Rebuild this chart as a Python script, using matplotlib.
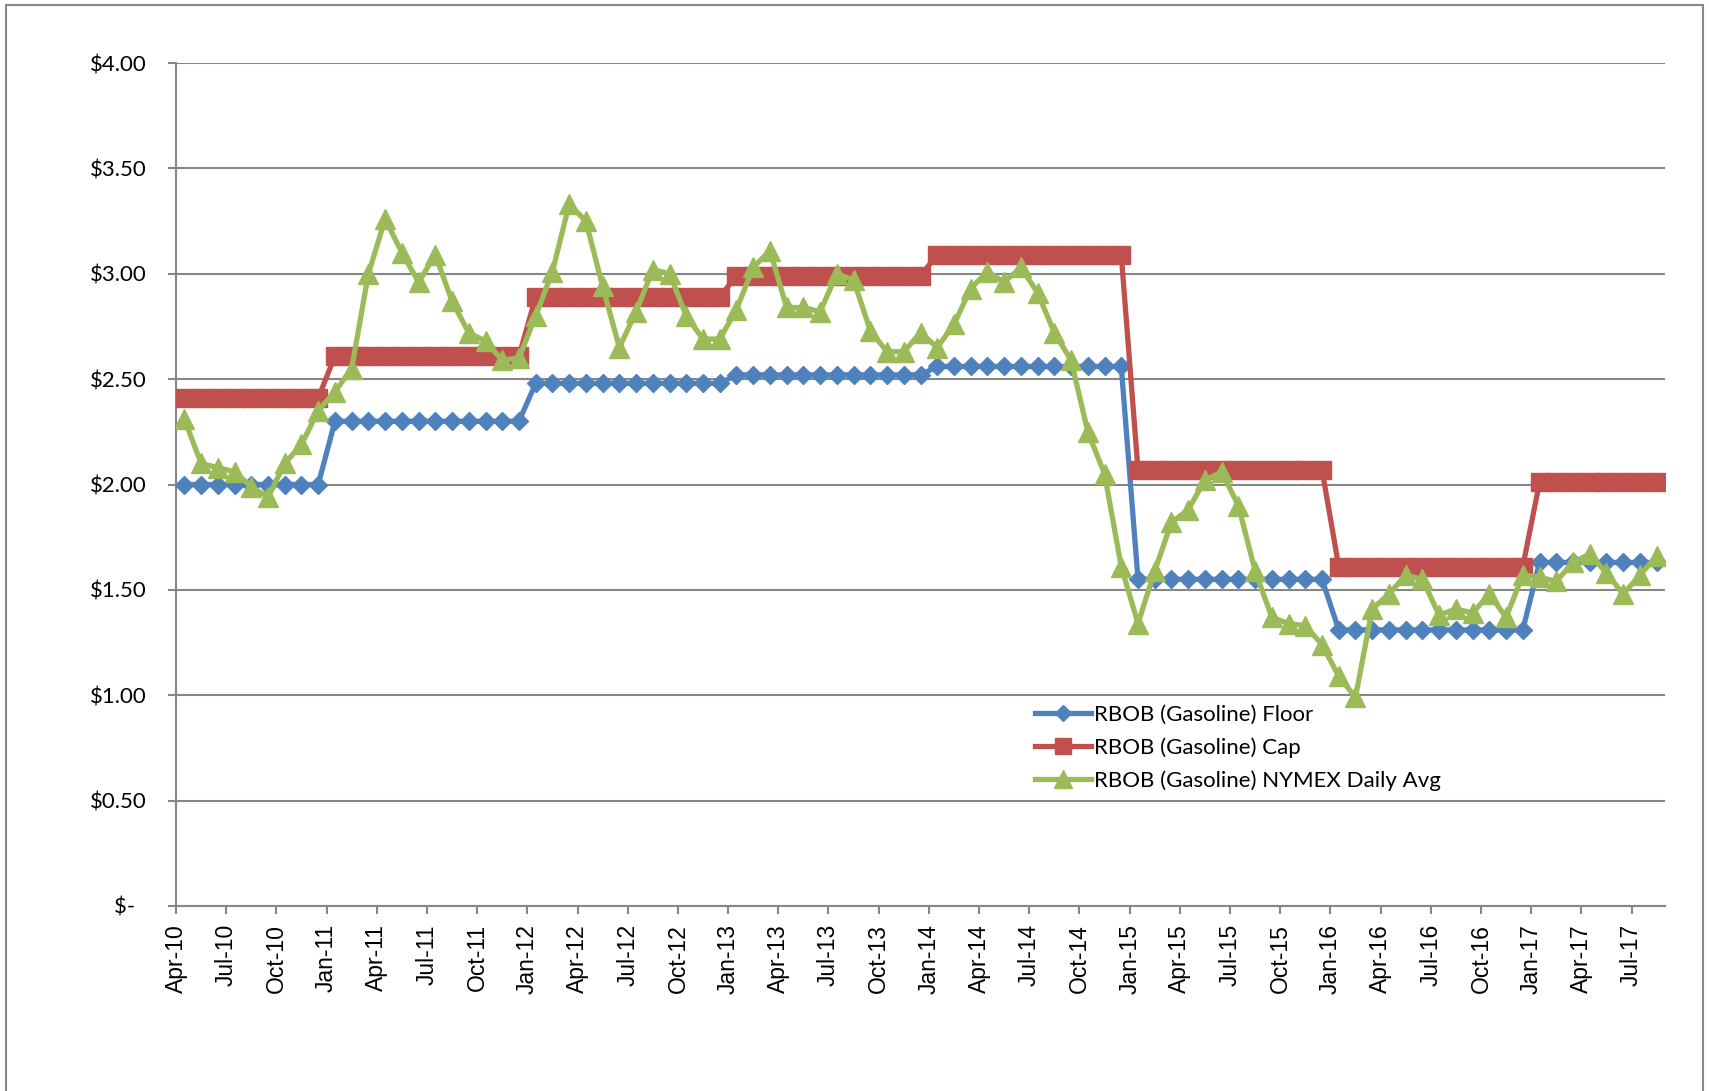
import numpy as np
import matplotlib
matplotlib.use("Agg")
import matplotlib.pyplot as plt
from matplotlib.patches import Rectangle

# ---- data (monthly, Apr-10 .. Aug-17) ----
floor = ([2.00] * 9 + [2.30] * 12 + [2.48] * 12 + [2.52] * 12 +
         [2.56] * 12 + [1.55] * 12 + [1.31] * 12 + [1.63] * 8)
cap = ([2.41] * 9 + [2.61] * 12 + [2.89] * 12 + [2.99] * 12 +
       [3.09] * 12 + [2.07] * 12 + [1.61] * 12 + [2.01] * 8)
nymex = [2.31, 2.10, 2.08, 2.06, 1.99, 1.94, 2.10, 2.19, 2.35,
         2.44, 2.55, 3.00, 3.26, 3.10, 2.96, 3.09, 2.87, 2.72, 2.68, 2.59, 2.60,
         2.80, 3.01, 3.33, 3.25, 2.94, 2.65, 2.82, 3.02, 3.00, 2.80, 2.69, 2.69,
         2.83, 3.03, 3.11, 2.84, 2.84, 2.82, 3.00, 2.97, 2.73, 2.63, 2.63, 2.72,
         2.65, 2.76, 2.93, 3.01, 2.96, 3.03, 2.91, 2.72, 2.59, 2.25, 2.05, 1.61,
         1.34, 1.59, 1.82, 1.88, 2.02, 2.06, 1.90, 1.59, 1.37, 1.34, 1.33, 1.24,
         1.09, 0.99, 1.41, 1.48, 1.57, 1.55, 1.38, 1.41, 1.39, 1.48, 1.37, 1.57,
         1.56, 1.54, 1.63, 1.67, 1.58, 1.48, 1.57, 1.66]
tick_labels = ["Apr-10", "Jul-10", "Oct-10", "Jan-11", "Apr-11", "Jul-11", "Oct-11",
               "Jan-12", "Apr-12", "Jul-12", "Oct-12", "Jan-13", "Apr-13", "Jul-13",
               "Oct-13", "Jan-14", "Apr-14", "Jul-14", "Oct-14", "Jan-15", "Apr-15",
               "Jul-15", "Oct-15", "Jan-16", "Apr-16", "Jul-16", "Oct-16", "Jan-17",
               "Apr-17", "Jul-17"]
y_ticks = [0, 0.5, 1.0, 1.5, 2.0, 2.5, 3.0, 3.5, 4.0]
y_labels = ["$-  ", "$0.50", "$1.00", "$1.50", "$2.00", "$2.50", "$3.00", "$3.50", "$4.00"]
series_names = ["RBOB (Gasoline) Floor", "RBOB (Gasoline) Cap",
                "RBOB (Gasoline) NYMEX Daily Avg"]

BLUE = "#4F81BD"
RED = "#C0504D"
GREEN = "#9BBB59"
GRID = "#868686"

W, H = 1709, 1091
fig = plt.figure(figsize=(W / 100, H / 100), dpi=100)
fig.patch.set_facecolor("white")

ax = fig.add_axes([176 / W, 1 - 906 / H, (1665 - 176) / W, (906 - 63) / H])

x = np.arange(len(nymex)) + 0.5

ax.plot(x, floor, color=BLUE, lw=3.8, marker="D", ms=9, mec=BLUE, mew=1,
        label=series_names[0], zorder=3)
ax.plot(x, cap, color=RED, lw=3.8, marker="s", ms=13.5, mec=RED, mew=1,
        label=series_names[1], zorder=4)
ax.plot(x, nymex, color=GREEN, lw=3.8, marker="^", ms=14.5, mec=GREEN, mew=1,
        label=series_names[2], zorder=5)

ax.set_xlim(0, len(nymex))
ax.set_ylim(0, 4.0)

ax.set_yticks(y_ticks)
ax.set_yticklabels(y_labels, fontfamily="Lato", fontsize=16)
ax.set_xticks(np.arange(0, len(nymex), 3))
ax.set_xticklabels(tick_labels, rotation=90, fontfamily="Liberation Sans", fontsize=16.5)

ax.grid(axis="y", color=GRID, lw=1.5, zorder=0)
ax.set_axisbelow(True)
for s in ["top", "right"]:
    ax.spines[s].set_visible(False)
for s in ["left", "bottom"]:
    ax.spines[s].set_color(GRID)
    ax.spines[s].set_linewidth(1.5)
ax.tick_params(axis="both", color=GRID, width=1.5, length=6, labelcolor="black")
ax.tick_params(axis="y", pad=15)
ax.tick_params(axis="x", pad=7)

leg = fig.legend(loc="upper left", bbox_to_anchor=(1035 / W, 1 - 705 / H),
                 frameon=False, borderpad=0, borderaxespad=0, handlelength=2.5,
                 handletextpad=0.15, labelspacing=0.55,
                 prop={"family": "Lato", "size": 16})
for h in leg.legend_handles:
    h.set_markersize(h.get_markersize() * 0.85)

fig.add_artist(Rectangle((6 / W, -0.02), (1703 - 6) / W, 1 - 5 / H + 0.02,
                         transform=fig.transFigure, fill=False, edgecolor="#888888",
                         lw=1.5, clip_on=False))

fig.savefig("out.png", dpi=100, facecolor="white")
